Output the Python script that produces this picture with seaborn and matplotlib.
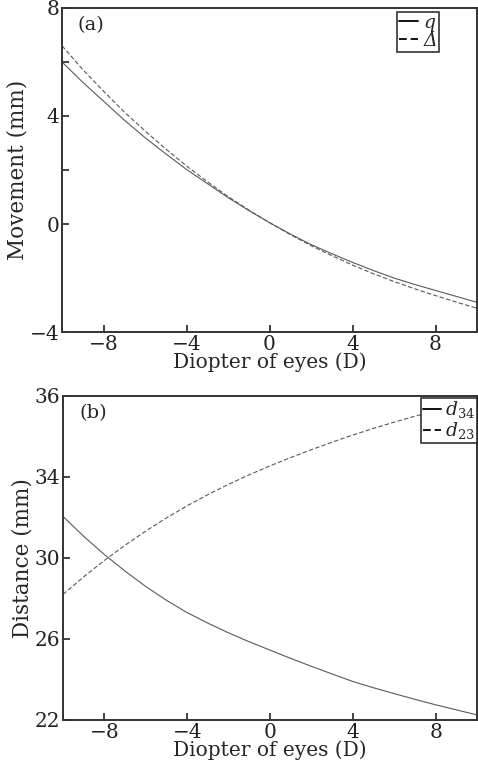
import numpy as np
import pandas as pd
import matplotlib
matplotlib.use("Agg")
import matplotlib.pyplot as plt
import seaborn as sns
from matplotlib.ticker import FixedLocator

# diopter of eyes (D)
diopter = [-10, -9, -8, -7, -6, -5, -4, -3, -2, -1, 0, 1, 2, 3, 4, 5, 6, 7, 8, 9, 10]

# panel (a): movement (mm)
q_move = [6.0, 5.25, 4.55, 3.85, 3.2, 2.6, 2.02, 1.5, 0.98, 0.5, 0.05,
          -0.37, -0.76, -1.1, -1.42, -1.72, -2.0, -2.24, -2.46, -2.68, -2.9]
delta_move = [6.6, 5.72, 4.92, 4.15, 3.45, 2.78, 2.15, 1.57, 1.02, 0.52, 0.05,
              -0.39, -0.8, -1.17, -1.52, -1.84, -2.13, -2.4, -2.65, -2.89, -3.12]

# panel (b): distance (mm)
d34 = [32.05, 31.07, 30.17, 29.35, 28.59, 27.91, 27.30, 26.78, 26.30, 25.86, 25.45,
       25.04, 24.65, 24.27, 23.90, 23.59, 23.30, 23.02, 22.75, 22.50, 22.25]
d23 = [28.2, 29.07, 29.88, 30.63, 31.33, 31.98, 32.58, 33.13, 33.64, 34.11, 34.55,
       34.96, 35.35, 35.72, 36.07, 36.40, 36.71, 37.00, 37.27, 37.52, 37.75]

x_ticks = [-8, -4, 0, 4, 8]
x_ticklabels = ["\u22128", "\u22124", "0", "4", "8"]
top_yticks = [-4, 0, 4, 8]
top_yticklabels = ["\u22124", "0", "4", "8"]
bot_yticks = [22, 26, 30, 34, 38]
bot_yticklabels = ["22", "26", "30", "34", "36"]  # as printed in the figure

sns.set_style("ticks")
plt.rcParams["font.family"] = ["DejaVu Serif"]
plt.rcParams["mathtext.fontset"] = "dejavuserif"

fig = plt.figure(figsize=(4.78, 7.74), dpi=100)
ax1 = fig.add_axes([0.1297, 0.571, 0.8683, 0.4187])
ax2 = fig.add_axes([0.1318, 0.0698, 0.8662, 0.4186])

line_col = "#5a5a5a"
spine_col = "#333333"

df_a = pd.DataFrame({"D": diopter, "q": q_move, "delta": delta_move})
sns.lineplot(data=df_a, x="D", y="q", ax=ax1, color=line_col, lw=0.8, label="q")
sns.lineplot(data=df_a, x="D", y="delta", ax=ax1, color=line_col, lw=0.8, label="\u0394")
ax1.lines[1].set_dashes([4, 2])

df_b = pd.DataFrame({"D": diopter, "d34": d34, "d23": d23})
sns.lineplot(data=df_b, x="D", y="d34", ax=ax2, color=line_col, lw=0.8, label=r"$d_{34}$")
sns.lineplot(data=df_b, x="D", y="d23", ax=ax2, color=line_col, lw=0.8, label=r"$d_{23}$")
ax2.lines[1].set_dashes([4, 2])

ax1.set_xlim(-10, 10)
ax1.set_ylim(-4, 8)
ax1.set_yticks(top_yticks)
ax1.set_yticklabels(top_yticklabels)
ax1.yaxis.set_minor_locator(FixedLocator([2, 6]))
ax1.set_ylabel("Movement (mm)", fontsize=15.5, labelpad=1)

ax2.set_xlim(-10, 10)
ax2.set_ylim(22, 38)
ax2.set_yticks(bot_yticks)
ax2.set_yticklabels(bot_yticklabels)
ax2.set_ylabel("Distance (mm)", fontsize=15.5, labelpad=1)

for ax in (ax1, ax2):
    ax.set_xticks(x_ticks)
    ax.set_xticklabels(x_ticklabels)
    ax.set_xlabel("Diopter of eyes (D)", fontsize=14.5, labelpad=-1)
    ax.tick_params(direction="in", length=5, width=1.2, labelsize=14.5, colors="#222222", pad=2)
    ax.tick_params(which="minor", direction="in", length=5, width=1.2, colors="#222222")
    for s in ax.spines.values():
        s.set_visible(True)
        s.set_linewidth(1.4)
        s.set_color(spine_col)

ax1.text(0.037, 0.975, "(a)", transform=ax1.transAxes, fontsize=14, va="top", ha="left")
ax2.text(0.04, 0.975, "(b)", transform=ax2.transAxes, fontsize=14, va="top", ha="left")

leg1 = ax1.legend(loc="upper right", bbox_to_anchor=(0.908, 0.988), fontsize=13.5,
                  handlelength=1.0, handletextpad=0.3, borderpad=0.1,
                  labelspacing=0.0, borderaxespad=0.0, fancybox=False, framealpha=1)
for t in leg1.get_texts():
    t.set_fontstyle("italic")

leg2 = ax2.legend(loc="upper right", bbox_to_anchor=(1.0, 0.995), fontsize=13.5,
                  handlelength=1.0, handletextpad=0.2, borderpad=0.1,
                  labelspacing=0.0, borderaxespad=0.0, fancybox=False, framealpha=1)

for leg in (leg1, leg2):
    leg.get_frame().set_edgecolor("#222222")
    leg.get_frame().set_linewidth(1.1)
    for h in leg.legend_handles:
        h.set_color("#111111")
        h.set_linewidth(1.4)

fig.savefig("out.png", dpi=100)
